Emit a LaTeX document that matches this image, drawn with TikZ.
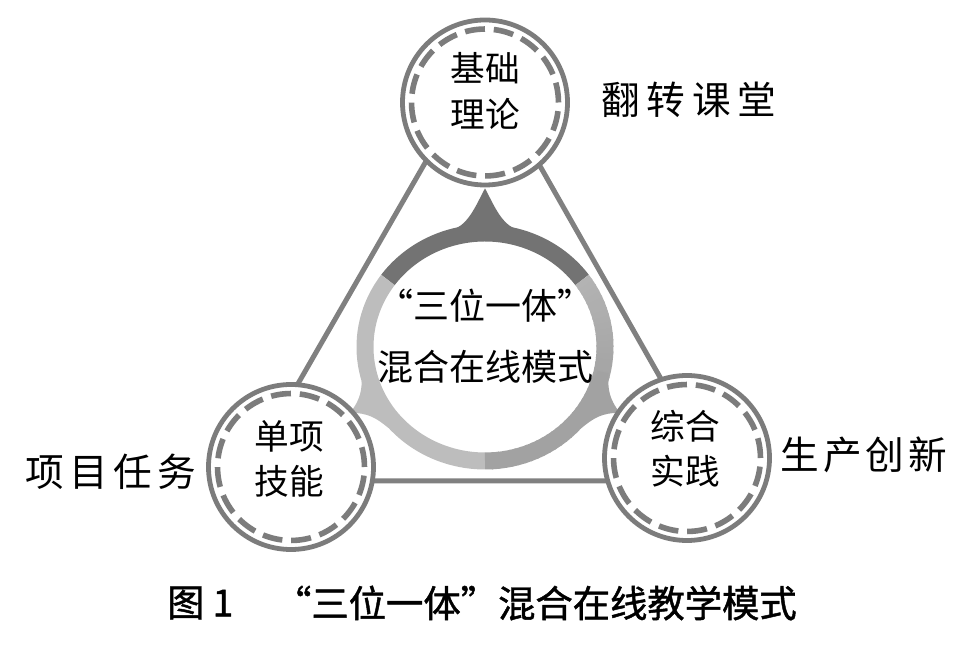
\documentclass[tikz,border=0pt]{standalone}
\usepackage{fontspec}
\newfontfamily\cjk{Noto Sans CJK SC}
\newfontfamily\capfont[FakeBold=1.2]{Noto Sans CJK SC}
\usetikzlibrary{calc}
\definecolor{ringdark}{HTML}{737373}
\definecolor{ringleft}{HTML}{BDBDBD}
\definecolor{ringright}{HTML}{A2A2A2}
\definecolor{ringrightlight}{HTML}{B4B4B4}
\definecolor{circgray}{HTML}{7C7C7C}
\definecolor{linegray}{HTML}{808080}
\newcommand\ringspike[4]{%
  \pgfmathsetmacro\spA{#1+3.5}\pgfmathsetmacro\spB{#1+7}\pgfmathsetmacro\spC{#1+14}%
  \pgfmathsetmacro\spD{#1-3.5}\pgfmathsetmacro\spE{#1-7}\pgfmathsetmacro\spF{#1-14}%
  \pgfmathsetmacro\spRa{#2-12}\pgfmathsetmacro\spRb{#3+3}\pgfmathsetmacro\spRc{#3-8}%
  \fill[#4] ($(ringc)+(#1:#2pt)$) .. controls ($(ringc)+(\spA:\spRa pt)$) and ($(ringc)+(\spB:\spRb pt)$) .. ($(ringc)+(\spC:#3pt)$)
    -- ($(ringc)+(\spC:\spRc pt)$) -- ($(ringc)+(\spF:\spRc pt)$) -- ($(ringc)+(\spF:#3pt)$)
    .. controls ($(ringc)+(\spE:\spRb pt)$) and ($(ringc)+(\spD:\spRa pt)$) .. cycle;}
\begin{document}
\begin{tikzpicture}[x=0.75pt,y=0.75pt,
  bubble/.style={circle, draw=circgray, line width=3.6pt, fill=white, minimum size=123.75pt, inner sep=0pt, outer sep=0pt},
  dashring/.style={draw=circgray, line width=4.2pt, dash pattern=on 15pt off 6.65pt},
  inlabel/.style={font=\cjk\fontsize{26pt}{34pt}\selectfont, align=center, inner sep=0pt},
  centerlabel/.style={font=\cjk\fontsize{27pt}{45.5pt}\selectfont, align=center, inner sep=0pt},
  sidelabel/.style={font=\cjk\fontsize{29pt}{29pt}\selectfont, inner sep=0pt},
  captionlabel/.style={font=\capfont\fontsize{28pt}{28pt}\selectfont, inner sep=0pt},
  triline/.style={draw=linegray, line width=3.75pt},
  ringseg/.style={line width=12.75pt}]
\useasboundingbox (0,0) rectangle (969,649);
% triangle
\coordinate (tA) at (482,585);
\coordinate (tB) at (242,168);
\coordinate (tC) at (719,168);
\draw[triline] (tA) -- (tB) -- (tC) -- cycle;
% central ring
\coordinate (ringc) at (485,302);
\draw[ringseg, draw=ringdark] ($(ringc)+(36:90pt and 85.5pt)$) arc[start angle=36, end angle=144, x radius=90pt, y radius=85.5pt];
\draw[ringseg, draw=ringleft] ($(ringc)+(144:90pt and 85.5pt)$) arc[start angle=144, end angle=270, x radius=90pt, y radius=85.5pt];
\foreach \a in {270,273,...,393}{
  \pgfmathsetmacro\segend{min(\a+4,396)}
  \pgfmathsetmacro\mixv{min(100,max(0,(396-\a)/60*100))}
  \draw[ringseg, draw=ringright!\mixv!ringrightlight] ($(ringc)+(\a:90pt and 85.5pt)$) arc[start angle=\a, end angle=\segend, x radius=90pt, y radius=85.5pt];
}
\ringspike{90}{119}{91.5}{ringdark}
\ringspike{206}{112.5}{94.5}{ringleft}
\ringspike{334}{112.5}{94.5}{ringright}
% circles
\node[bubble] (T) at (485,546.5) {};
\node[bubble] (L) at (291,182) {};
\node[bubble] (R) at (687,191) {};
\draw[dashring] (T) circle (55.1pt);
\draw[dashring] (L) circle (55.1pt);
\draw[dashring] (R) circle (55.1pt);
% labels
\node[inlabel] (Tt) at (485,558) {基础\\理论};
\node[inlabel] (Lt) at (289,190) {单项\\技能};
\node[inlabel] (Rt) at (685,200.5) {综合\\实践};
\node[centerlabel] (Ct) at (485,312.5) {“三位一体”\\混合在线模式};
\node[sidelabel] (S1) at (689,549) {翻\hspace{5pt}转\hspace{5pt}课\hspace{5pt}堂};
\node[sidelabel] (S2) at (864,194) {生\hspace{3pt}产\hspace{3pt}创\hspace{3pt}新};
\node[sidelabel] (S3) at (111,177) {项\hspace{4pt}目\hspace{4pt}任\hspace{4pt}务};
\node[captionlabel, anchor=west] (cap1) at (167,46) {图\hspace{6pt}1};
\node[captionlabel, anchor=east] (cap2) at (797,46) {“三位一体”混合在线教学模式};
\end{tikzpicture}
\end{document}
